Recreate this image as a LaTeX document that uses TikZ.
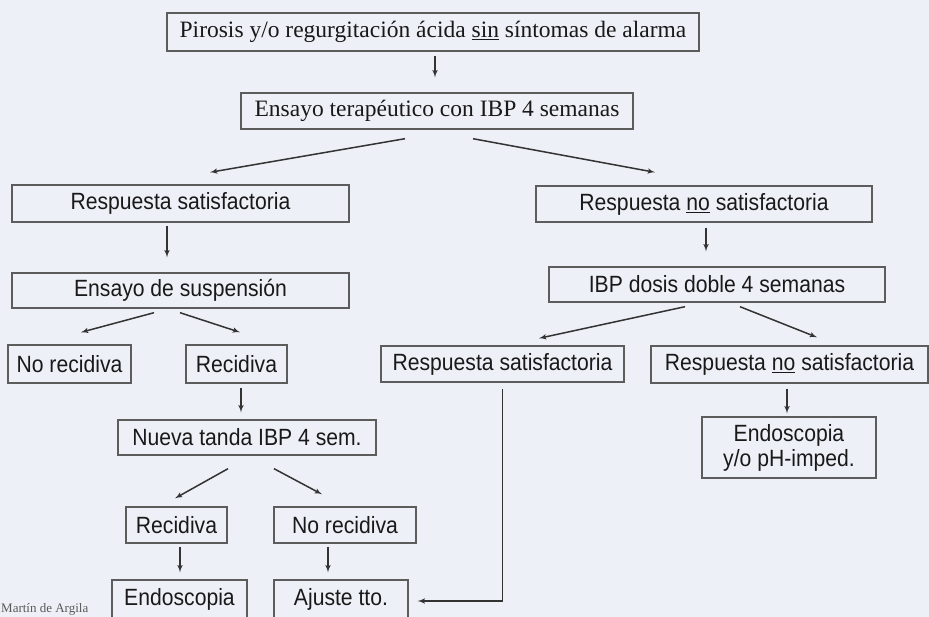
\documentclass[tikz,border=0pt]{standalone}
\usepackage{fontspec}
\setmainfont{Liberation Serif}
\setsansfont{Liberation Sans}[FakeStretch=0.9]
\usetikzlibrary{shapes,arrows}
\usetikzlibrary{calc}
\definecolor{fondo}{HTML}{EDF0F7}
\definecolor{borde}{HTML}{5C5C5C}
\definecolor{flecha}{HTML}{333333}
\tikzstyle{line} = [draw=flecha, -latex', line width=1.5pt]
\tikzstyle{caja} = [draw=borde, line width=1.4pt, rectangle, inner sep=0pt, text=black!90, font=\sffamily\fontsize{23.5}{25}\selectfont]
\tikzstyle{cajaserif} = [caja, font=\rmfamily\fontsize{23.5}{28}\selectfont]

\begin{document}
\begin{tikzpicture} [x=1pt, y=-1pt]

        \useasboundingbox (0,0) rectangle (929,617);
        \clip (0,0) rectangle (929,617);
        \fill[fondo] (0,0) rectangle (929,617);

        \node[cajaserif, minimum width=532pt, minimum height=38pt] (pirosis) at (433,32) {Pirosis y/o regurgitación ácida \underline{sin} síntomas de alarma};
        \node[cajaserif, minimum width=392pt, minimum height=36pt] (ensayo) at (437,111) {Ensayo terapéutico con IBP 4 semanas};
        \node[caja, minimum width=337pt, minimum height=37pt] (satis) at (180.5,203.5) {Respuesta satisfactoria};
        \node[caja, minimum width=336pt, minimum height=36pt] (nosatis) at (704,204) {Respuesta \underline{no} satisfactoria};
        \node[caja, minimum width=337pt, minimum height=35pt] (suspension) at (180.5,290.5) {Ensayo de suspensión};
        \node[caja, minimum width=336pt, minimum height=35pt] (doble) at (717,284.5) {IBP dosis doble 4 semanas};
        \node[caja, minimum width=123pt, minimum height=38pt] (norecid) at (69.5,364) {No recidiva};
        \node[caja, minimum width=101pt, minimum height=38pt] (recid) at (236.5,364) {Recidiva};
        \node[caja, minimum width=243pt, minimum height=36pt] (satisdos) at (502.5,364) {Respuesta satisfactoria};
        \node[caja, minimum width=277pt, minimum height=37pt] (nosatisdos) at (789.5,364.5) {Respuesta \underline{no} satisfactoria};
        \node[caja, minimum width=174pt, minimum height=61pt, align=center] (endosph) at (789,447.5) {Endoscopia\\y/o pH-imped.};
        \node[caja, minimum width=258pt, minimum height=35pt] (nueva) at (247,437.5) {Nueva tanda IBP 4 sem.};
        \node[caja, minimum width=101pt, minimum height=36pt] (recidos) at (176.5,525) {Recidiva};
        \node[caja, minimum width=142pt, minimum height=36pt] (norecidos) at (345,525) {No recidiva};
        \node[caja, minimum width=135pt, minimum height=38pt] (endos) at (179.5,599) {Endoscopia};
        \node[caja, minimum width=134pt, minimum height=38pt] (ajuste) at (341,599) {Ajuste tto.};
        \node[anchor=base west, inner sep=0pt, text=black!65, font=\rmfamily\fontsize{13}{15}\selectfont] (autor) at (1,612) {Martín de Argila};

        \path [line] ($(pirosis.south)+(2,4)$) -- ($(ensayo.north)+(-2,-15)$);
        \path [line] ($(ensayo.south)+(-32,9)$) -- ($(satis.north)+(29.5,-12)$);
        \path [line] ($(ensayo.south)+(36,9)$) -- ($(nosatis.north)+(-49,-13)$);
        \path [line] ($(satis.south)+(-13.5,3)$) -- ($(suspension.north)+(-13.5,-15)$);
        \path [line] ($(nosatis.south)+(2,5)$) -- ($(doble.north)+(-11,-15)$);
        \path [line] ($(suspension.south)+(-26.5,4)$) -- ($(norecid.north)+(11.5,-12)$);
        \path [line] ($(suspension.south)+(-0.5,4)$) -- ($(recid.north)+(3.5,-12)$);
        \path [line] ($(doble.south)+(-32,4)$) -- ($(satisdos.north)+(36.5,-7)$);
        \path [line] ($(doble.south)+(23,4)$) -- ($(nosatisdos.north)+(27.5,-8)$);
        \path [line] ($(recid.south)+(4.5,4)$) -- ($(nueva.north)+(-6,-7)$);
        \path [line] ($(nosatisdos.south)+(-2.5,5)$) -- ($(endosph.north)+(-2,-3)$);
        \path [line] ($(nueva.south)+(-19,13)$) -- ($(recidos.north)+(-1.5,-8)$);
        \path [line] ($(nueva.south)+(27,13)$) -- ($(norecidos.north)+(-23,-12)$);
        \path [line] ($(recidos.south)+(3.5,3)$) -- ($(endos.north)+(0.5,-7)$);
        \path [line] ($(norecidos.south)+(-17,3)$) -- ($(ajuste.north)+(-13,-7)$);
        \path [line] ($(satisdos.south)+(0,6)$) |- ($(ajuste.east)+(9,2)$);

\end{tikzpicture}
\end{document}
